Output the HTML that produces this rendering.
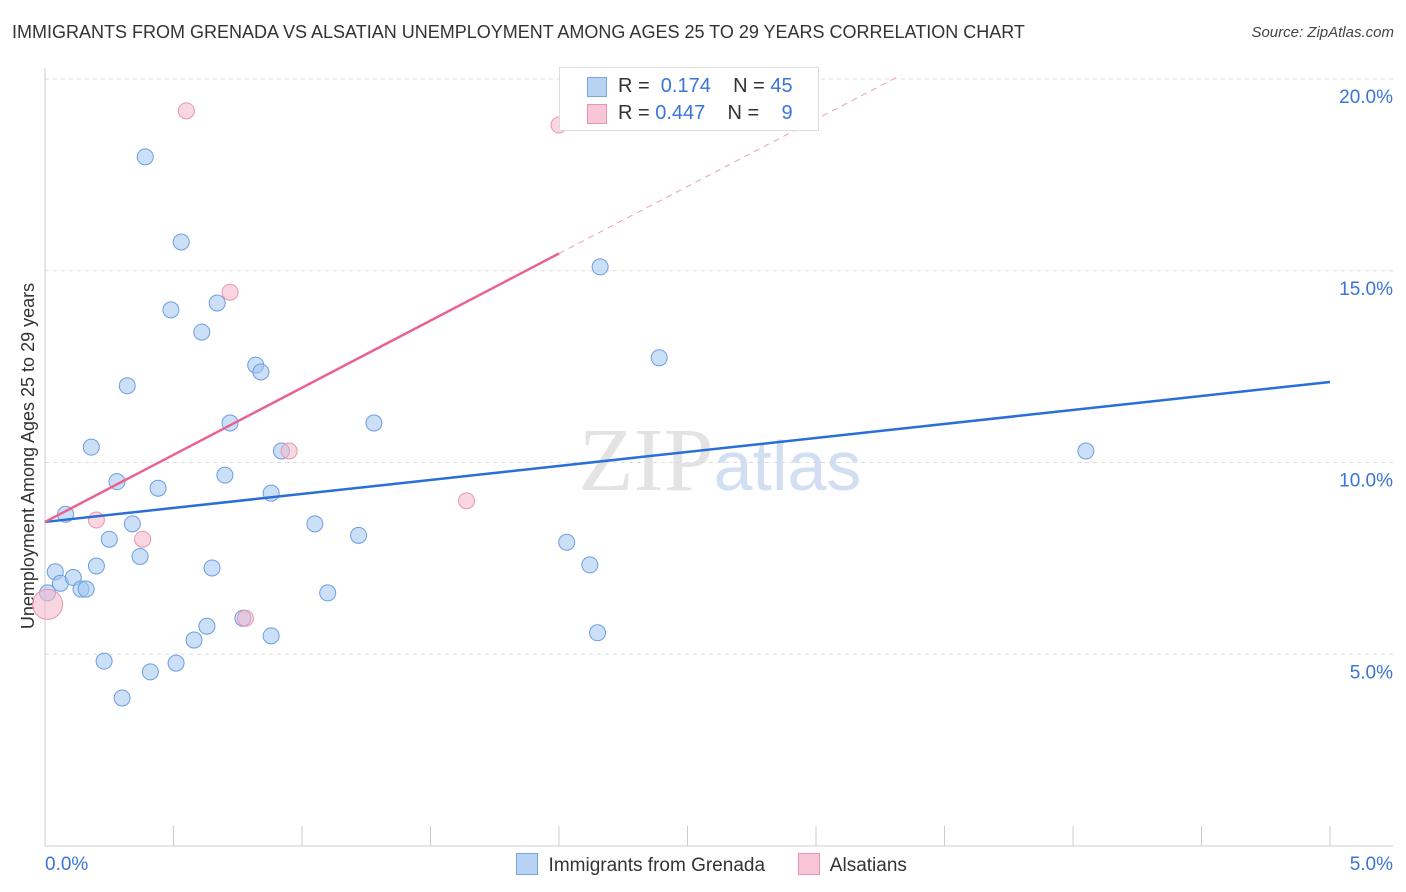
<!DOCTYPE html>
<html><head><meta charset="utf-8"><style>
body{margin:0;background:#fff;font-family:"Liberation Sans",sans-serif;}
#wrap{position:relative;width:1406px;height:892px;overflow:hidden}
.t{position:absolute;white-space:nowrap}
</style></head><body>
<div id="wrap">
<div class="t" style="left:12px;top:22px;font-size:18px;color:#333">IMMIGRANTS FROM GRENADA VS ALSATIAN UNEMPLOYMENT AMONG AGES 25 TO 29 YEARS CORRELATION CHART</div>
<div class="t" style="right:12px;top:24px;font-size:15px;color:#444;font-style:italic">Source: ZipAtlas.com</div>
<svg id="svg" width="1406" height="892" style="position:absolute;left:0;top:0"></svg>
</div>
<script>
const blueX=[0.04,0.06,0.01,0.11,0.14,0.16,0.08,0.25,0.2,0.37,0.34,0.28,0.18,0.32,0.39,0.53,0.49,0.67,0.61,0.82,0.84,0.72,0.7,0.44,0.65,0.63,0.58,0.77,0.51,0.41,0.3,0.23,0.88,0.92,0.88,1.05,1.1,1.22,1.28,2.03,2.12,2.15,2.16,2.39,4.05];
const blueY=[7.15,6.85,6.6,7.0,6.7,6.7,8.65,8.0,7.3,7.55,8.4,9.5,10.4,12.0,17.97,15.75,13.98,14.16,13.4,12.54,12.36,11.03,9.67,9.33,7.25,5.73,5.37,5.94,4.77,4.54,3.86,4.82,9.2,10.3,5.48,8.4,6.6,8.1,11.03,7.92,7.33,5.56,15.1,12.73,10.3];
const pinkX=[0.01,0.55,0.72,0.95,0.2,0.38,0.78,1.64,2.0];
const pinkY=[6.3,19.17,14.44,10.3,8.5,8.0,5.94,9.0,18.8];
const pinkR=[15,8,8,8,8,8,8,8,8];
const yTicks=[5,10,15,20];
const xs=v=>45+v*257, ys=v=>846-v*38.35;
const svg=document.getElementById('svg');const NS='http://www.w3.org/2000/svg';
function mk(tag,attrs,name){const e=document.createElementNS(NS,tag);for(const k in attrs)e.setAttribute(k,attrs[k]);


svg.appendChild(e);return e;}
yTicks.forEach(t=>{mk('line',{x1:45,x2:1393,y1:ys(t),y2:ys(t),stroke:'#ddd','stroke-dasharray':'4,4'},'gridline');
const tx=mk('text',{x:1393,y:ys(t)+24,'text-anchor':'end','font-size':19,fill:'#3a74d6','font-family':'Liberation Sans'},'y-tick-label');tx.textContent=t.toFixed(1)+'%';});
mk('line',{x1:45,x2:45,y1:68,y2:846,stroke:'#ccc'},'y-axis');
mk('line',{x1:45,x2:1393,y1:846,y2:846,stroke:'#ccc'},'x-axis');
for(let i=0;i<=10;i++){mk('line',{x1:xs(i*0.5),x2:xs(i*0.5),y1:826,y2:846,stroke:'#ccc'},'x-tick');}
let t=mk('text',{x:45,y:870,'font-size':19,fill:'#3a74d6','font-family':'Liberation Sans'},'x-tick-label');t.textContent='0.0%';
t=mk('text',{x:1393,y:870,'text-anchor':'end','font-size':19,fill:'#3a74d6','font-family':'Liberation Sans'},'x-tick-label');t.textContent='5.0%';
t=mk('text',{x:0,y:0,transform:'translate(34,456) rotate(-90)','text-anchor':'middle','font-size':18,fill:'#333','font-family':'Liberation Sans'},'y-axis-title');t.textContent='Unemployment Among Ages 25 to 29 years';
t=mk('text',{x:720,y:490,'text-anchor':'middle','font-size':90,fill:'#ddd','font-family':'Liberation Serif','opacity':0.8},'watermark');t.innerHTML='ZIP<tspan fill="#c8d8f0" font-family="Liberation Sans" font-size="70">atlas</tspan>';
blueX.forEach((x,i)=>mk('circle',{cx:xs(x),cy:ys(blueY[i]),r:8,fill:'rgba(160,196,240,0.55)',stroke:'#6d9de0','stroke-width':1},'grenada-point'));
pinkX.forEach((x,i)=>mk('circle',{cx:xs(x),cy:ys(pinkY[i]),r:pinkR[i],fill:'rgba(245,180,200,0.55)',stroke:'#e895b2','stroke-width':1},'alsatian-point'));
mk('line',{x1:xs(0),y1:ys(8.45),x2:xs(5),y2:ys(12.1),stroke:'#2a6fd6','stroke-width':2.5},'grenada-trend-line');
mk('line',{x1:xs(0),y1:ys(8.45),x2:xs(2.0),y2:ys(15.45),stroke:'#e8638f','stroke-width':2.5},'alsatian-trend-line');
mk('line',{x1:xs(2.0),y1:ys(15.45),x2:xs(3.33),y2:ys(20.1),stroke:'#e8a0b8','stroke-width':1,'stroke-dasharray':'6,5'},'alsatian-trend-extension');
</script>
<div class="t" style="left:559px;top:67px;width:258px;height:62px;border:1px solid #ddd;background:#fff;font-size:20px;color:#333">
<div style="position:absolute;left:27px;top:9px;width:18px;height:18px;background:#b8d2f4;border:1px solid #7aa6e4"></div>
<div class="t" style="left:58px;top:7px">R = &nbsp;<span style="color:#3a74d6">0.174</span>&nbsp;&nbsp;&nbsp; N = <span style="color:#3a74d6">45</span></div>
<div style="position:absolute;left:27px;top:36px;width:18px;height:18px;background:#f8c6d6;border:1px solid #e895b2"></div>
<div class="t" style="left:58px;top:34px">R = <span style="color:#3a74d6">0.447</span>&nbsp;&nbsp;&nbsp; N = &nbsp;&nbsp;&nbsp;<span style="color:#3a74d6">9</span></div>
</div>
<div class="t" style="left:516px;top:853px;font-size:19px;color:#333">
<span style="display:inline-block;width:20px;height:20px;background:#b8d2f4;border:1px solid #7aa6e4;vertical-align:-4px"></span>&nbsp; Immigrants from Grenada
<span style="display:inline-block;width:20px;height:20px;background:#f8c6d6;border:1px solid #e895b2;vertical-align:-4px;margin-left:28px"></span>&nbsp; Alsatians</div>
</body></html>
